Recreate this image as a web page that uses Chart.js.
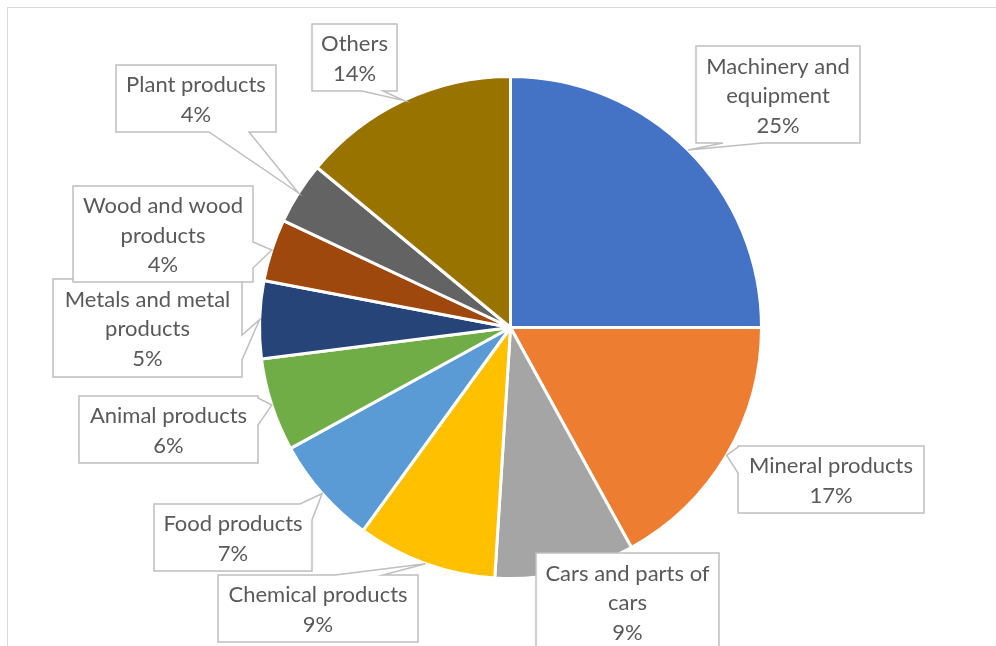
<!DOCTYPE html>
<html>
<head>
<meta charset="utf-8">
<script src="https://cdn.jsdelivr.net/npm/chart.js@4.4.1/dist/chart.umd.min.js"></script>
<style>
  html, body { margin: 0; padding: 0; background: #ffffff; }
  #wrap { position: relative; width: 996px; height: 646px; }
  #frame { position: absolute; left: 7px; top: 7px; width: 1000px; height: 700px; border: 1.5px solid #d9d9d9; box-sizing: border-box; }
  canvas { position: absolute; left: 0; top: 0; }
</style>
</head>
<body>
<div id="wrap">
  <div id="frame"></div>
  <canvas id="pie" width="996" height="646"></canvas>
</div>
<script>
var categories = [
  "Machinery and equipment",
  "Mineral products",
  "Cars and parts of cars",
  "Chemical products",
  "Food products",
  "Animal products",
  "Metals and metal products",
  "Wood and wood products",
  "Plant products",
  "Others"
];
var shares = [25, 17, 9, 9, 7, 6, 5, 4, 4, 14];
var colors = ["#4472C4", "#ED7D31", "#A5A5A5", "#FFC000", "#5B9BD5", "#70AD47", "#264478", "#9E480E", "#636363", "#997300"];

// wrapped label lines for each callout (the % line is added from shares)
var labelLines = [
  ["Machinery and", "equipment"],
  ["Mineral products"],
  ["Cars and parts of", "cars"],
  ["Chemical products"],
  ["Food products"],
  ["Animal products"],
  ["Metals and metal", "products"],
  ["Wood and wood", "products"],
  ["Plant products"],
  ["Others"]
];

// callout boxes: x, y, w, h and the two points where the pointer leaves the box
var callouts = [
  { x: 696, y: 46,  w: 164, h: 97,  base: [["bottom", 27], ["bottom", 67]] },
  { x: 738, y: 446, w: 186, h: 67,  base: [["left", 1], ["left", 27]] },
  { x: 536, y: 553, w: 183, h: 110, base: null },
  { x: 218, y: 575, w: 200, h: 67,  base: [["top", 117], ["top", 165]] },
  { x: 154, y: 504, w: 158, h: 67,  base: [["top", 146], ["right", 16]] },
  { x: 79,  y: 396, w: 179, h: 67,  base: [["right", 2], ["right", 29]] },
  { x: 53,  y: 279, w: 189, h: 98,  base: [["right", 56], ["right", 81]] },
  { x: 73,  y: 186, w: 180, h: 96,  base: [["right", 56], ["right", 82]] },
  { x: 116, y: 65,  w: 160, h: 67,  base: [["bottom", 93], ["bottom", 133]] },
  { x: 312, y: 24,  w: 85,  h: 67,  base: [["bottom", 50], ["bottom", 71]] }
];

// distance along the box outline, clockwise from the top-left corner
function perim(b, side, o) {
  if (side == "top") return o;
  if (side == "right") return b.w + o;
  if (side == "bottom") return b.w + b.h + (b.w - o);
  return 2 * b.w + b.h + (b.h - o);
}
function perimPoint(b, t) {
  if (t <= b.w) return [b.x + t, b.y];
  t -= b.w;
  if (t <= b.h) return [b.x + b.w, b.y + t];
  t -= b.h;
  if (t <= b.w) return [b.x + b.w - t, b.y + b.h];
  t -= b.w;
  return [b.x, b.y + b.h - t];
}

var calloutPlugin = {
  id: "callouts",
  afterDatasetsDraw: function(chart) {
    var ctx = chart.ctx;
    var arcs = chart.getDatasetMeta(0).data;
    ctx.save();
    for (var i = 0; i < arcs.length; i++) {
      var b = callouts[i];
      var arc = arcs[i];
      var pts = [];
      var corners = [0, b.w, b.w + b.h, 2 * b.w + b.h];
      if (b.base) {
        var t1 = perim(b, b.base[0][0], b.base[0][1]);
        var t2 = perim(b, b.base[1][0], b.base[1][1]);
        if (t1 > t2) { var tmp = t1; t1 = t2; t2 = tmp; }
        var mid = (arc.startAngle + arc.endAngle) / 2;
        var tip = [arc.x + Math.cos(mid) * arc.outerRadius, arc.y + Math.sin(mid) * arc.outerRadius];
        corners.forEach(function(c) { if (c < t1 || c > t2) pts.push({ t: c, p: perimPoint(b, c) }); });
        pts.push({ t: t1, p: perimPoint(b, t1) });
        pts.push({ t: t1 + 0.001, p: tip });
        pts.push({ t: t1 + 0.002, p: perimPoint(b, t2) });
      } else {
        corners.forEach(function(c) { pts.push({ t: c, p: perimPoint(b, c) }); });
      }
      pts.sort(function(a, c) { return a.t - c.t; });

      ctx.beginPath();
      pts.forEach(function(q, k) {
        if (k == 0) ctx.moveTo(q.p[0], q.p[1]);
        else ctx.lineTo(q.p[0], q.p[1]);
      });
      ctx.closePath();
      ctx.fillStyle = "#ffffff";
      ctx.fill();
      ctx.lineWidth = 1.5;
      ctx.strokeStyle = "#bfbfbf";
      ctx.lineJoin = "miter";
      ctx.stroke();

      var lines = labelLines[i].concat([shares[i] + "%"]);
      var lh = 29.5;
      var cx = b.x + b.w / 2;
      var cy = b.y + Math.min(b.h, 97) / 2 + 1.5;
      ctx.fillStyle = "#595959";
      ctx.font = "22px Lato";
      ctx.textAlign = "center";
      ctx.textBaseline = "middle";
      lines.forEach(function(s, k) {
        ctx.fillText(s, cx, cy + (k - (lines.length - 1) / 2) * lh);
      });
    }
    ctx.restore();
  }
};

var mypie = document.getElementById("pie").getContext("2d");

var pie = new Chart(mypie, {
  type: "pie",
  data: {
    labels: categories,
    datasets: [
      {
        data: shares,
        backgroundColor: colors,
        borderColor: "#ffffff",
        borderWidth: 3
      }
    ]
  },
  options: {
    responsive: false,
    animation: false,
    layout: {
      padding: { left: 258, right: 233, top: 75, bottom: 66 }
    },
    plugins: {
      legend: { display: false },
      tooltip: { enabled: false }
    }
  },
  plugins: [calloutPlugin]
});
</script>
</body>
</html>
